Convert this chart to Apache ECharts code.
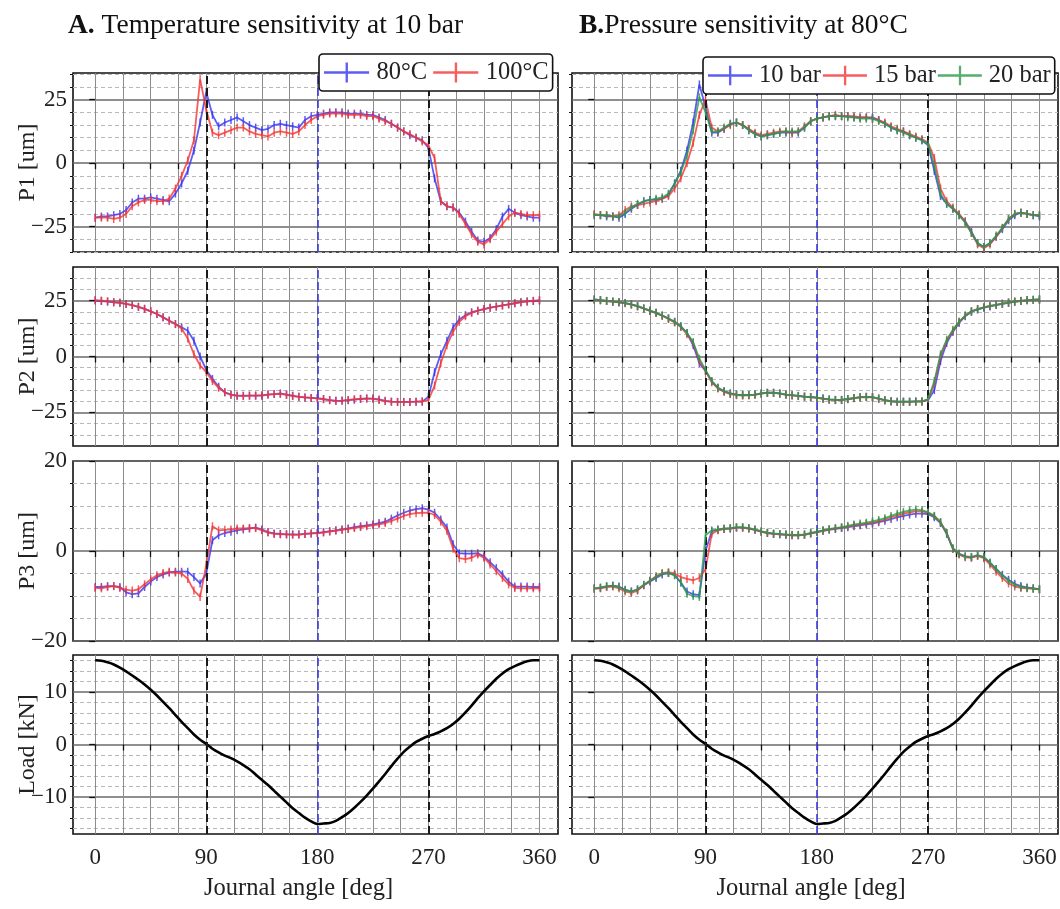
<!DOCTYPE html>
<html>
<head>
<meta charset="utf-8">
<title>Journal orbit sensitivity</title>
<script src="https://cdn.jsdelivr.net/npm/echarts@6.0.0/dist/echarts.min.js"></script>
<style>
  html, body { margin: 0; padding: 0; background: #fff; }
  #chart { width: 1060px; height: 909px; }
</style>
</head>
<body>
<div id="chart"></div>
<script>
// journal angle [deg]
const angle = [0, 5, 10, 15, 20, 25, 30, 35, 40, 45,
  50, 55, 60, 65, 70, 75, 80, 85, 90, 95,
  100, 105, 110, 115, 120, 125, 130, 135, 140, 145,
  150, 155, 160, 165, 170, 175, 180, 185, 190, 195,
  200, 205, 210, 215, 220, 225, 230, 235, 240, 245,
  250, 255, 260, 265, 270, 275, 280, 285, 290, 295,
  300, 305, 310, 315, 320, 325, 330, 335, 340, 345,
  350, 355, 360];

// A. temperature sensitivity at 10 bar
const p1_80C = [-21.5, -21, -21, -20.5, -20, -18.5, -15.5, -14, -14, -13.5,
  -14, -14.5, -15, -12, -8, -3, 5, 16, 28, 19,
  14.5, 16, 17, 18, 16.5, 15, 14, 13, 13.5, 15,
  15.5, 15, 14.5, 14, 17, 18.5, 19, 19.5, 20, 20,
  20, 19.5, 19.5, 19.5, 19, 19, 18, 17, 15.5, 14,
  12.5, 11, 10, 9, 6, -6, -15, -17, -17.5, -19.5,
  -23, -27, -30.5, -31, -29.5, -26, -21, -18, -19.5, -20.5,
  -21, -21.5, -21.5];
const p1_100C = [-21.5, -21.5, -21.5, -22, -21.5, -20, -17, -15.5, -14.5, -14.5,
  -15, -15, -14, -10, -5, 1, 9, 33, 21, 12,
  11, 12, 13, 14, 14, 12.5, 11.5, 11, 10.5, 12,
  12.5, 12, 11.5, 12.5, 15, 17, 18.5, 19, 19.5, 19.5,
  19.5, 19, 19, 19, 18.5, 18.5, 17.5, 16.5, 15.5, 14,
  12.5, 11.5, 10, 8.5, 7, 2, -15, -17, -17.5, -20,
  -24, -28, -31, -32, -30, -27, -24, -21, -19.5, -20,
  -20.5, -20.5, -20.5];
const p2_80C = [25, 24.8, 24.5, 24.2, 24, 23.5, 23, 22.2, 21.3, 20.2,
  19, 17.5, 16, 14.5, 13, 11.5, 7, 0, -6, -10,
  -13.5, -16, -17, -17.5, -17.5, -17.5, -17.5, -17.5, -17, -16.8,
  -16.5, -17, -17.5, -18, -18.3, -18.5, -18.7, -19, -19.5, -19.8,
  -19.8, -19.5, -19.3, -19, -18.8, -18.8, -19.2, -19.8, -20.2, -20.3,
  -20.3, -20.3, -20.2, -20.2, -18, -7, 1, 7, 13, 16.5,
  18.5, 19.8, 20.5, 21.2, 21.8, 22.3, 22.8, 23.3, 23.8, 24.3,
  24.6, 24.8, 25];
const p2_100C = [25.2, 25, 24.7, 24.3, 24, 23.5, 23, 22.2, 21.3, 20.2,
  19, 17.5, 16, 14.5, 12.5, 8, 1, -4, -7, -11,
  -14, -16, -17.2, -17.5, -17.7, -17.5, -17.5, -17.3, -17, -16.8,
  -16.7, -17.2, -17.7, -18, -18.3, -18.5, -18.7, -19.1, -19.5, -19.8,
  -19.7, -19.4, -19.1, -18.9, -18.7, -18.9, -19.4, -19.9, -20.2, -20.3,
  -20.4, -20.3, -20.2, -20, -19.5, -13, -3, 5, 11, 15.5,
  18, 19.5, 20.5, 21.2, 21.8, 22.3, 22.8, 23.3, 23.8, 24.3,
  24.6, 24.9, 25.2];
const p3_80C = [-8, -8, -7.8, -7.8, -8, -9.2, -9.6, -9.4, -8, -6.8,
  -5.8, -5.2, -4.8, -4.6, -4.6, -4.6, -5.8, -7.2, -5, 2.4,
  3.5, 4, 4.3, 4.6, 4.8, 5, 5.2, 4.8, 4.2, 3.9,
  3.8, 3.7, 3.7, 3.7, 3.8, 3.9, 4, 4.2, 4.4, 4.6,
  4.8, 5, 5.3, 5.5, 5.7, 5.9, 6.2, 6.5, 7.2, 7.9,
  8.5, 9, 9.3, 9.5, 9.2, 8.5, 7, 5.2, 1.5, -0.5,
  -0.6, -0.6, -0.5, -1.2, -2.5, -3.8, -5.2, -6.8, -7.9, -7.9,
  -7.9, -8, -8];
const p3_100C = [-8.2, -8.3, -8, -7.8, -8.2, -8.6, -8.8, -8.5, -7.4, -6.3,
  -5.4, -4.9, -4.6, -4.8, -5, -6.2, -8.8, -10.2, -3, 5.5,
  4.6, 4.7, 4.8, 5, 5, 5.1, 5.1, 4.6, 4.1, 3.8,
  3.7, 3.7, 3.6, 3.6, 3.8, 3.9, 4, 4.1, 4.3, 4.5,
  4.7, 4.9, 5.1, 5.3, 5.5, 5.7, 5.9, 6.2, 6.7, 7.2,
  7.8, 8.2, 8.4, 8.5, 8.5, 8, 6.5, 4.5, 0.5, -1.6,
  -1.8, -1.5, -0.8, -1.5, -3, -4.5, -6, -7.4, -8.2, -8.3,
  -8.3, -8.3, -8.3];

// B. pressure sensitivity at 80 C
const p1_10bar = [-20.5, -20.5, -21, -21, -21.5, -20, -18, -16.5, -15, -14.5,
  -14.5, -14, -12.5, -8, -3, 5, 16, 31, 22, 12,
  12, 13.5, 15.5, 16, 15, 13, 11.5, 10.5, 11, 11.5,
  12, 12, 12, 12, 14, 16.5, 17.5, 18, 18.5, 18.5,
  18.5, 18.5, 18, 18, 18, 18, 17, 15.5, 14, 13,
  12.5, 11, 10, 9, 7, -3, -13, -16, -18, -20.5,
  -23, -27, -31.5, -33, -31.5, -29, -26, -22.5, -20.5, -19.5,
  -20, -20.5, -21];
const p1_15bar = [-20, -20.5, -20.5, -21, -20.5, -18.5, -17, -16.5, -16, -15.5,
  -15, -14, -13, -10, -6, 0, 8, 19, 25, 14,
  12.5, 13.5, 15, 16, 15, 13.5, 12, 11, 11.5, 12,
  12.5, 12.5, 12, 12.5, 14.5, 16.5, 17.5, 18, 18.5, 19,
  18.5, 18.5, 18.5, 18, 18, 17.5, 17, 16, 14.5, 13.5,
  12.5, 11.5, 10.5, 9.5, 8, 2, -10, -15, -17.5, -20,
  -23, -27.5, -32, -33.5, -32, -29, -25.5, -22, -20, -19.5,
  -20, -20.5, -20.5];
const p1_20bar = [-20.5, -20.5, -20.5, -21, -21, -19.5, -17.5, -16, -15, -14.5,
  -14, -13.5, -12, -8, -3.5, 3, 13, 26, 20, 12.5,
  12.5, 14, 15.5, 16, 15, 13, 11.5, 10.5, 11, 11.5,
  12, 12.5, 12.5, 12.5, 14, 16.5, 17.5, 18, 18.5, 18.5,
  18.5, 18, 18, 17.5, 17.5, 17.5, 16.5, 15.5, 14, 13,
  12, 11, 10, 9, 7.5, -1, -12, -16, -18, -20.5,
  -23.5, -27.5, -31.5, -33, -31.5, -28.5, -25.5, -22, -20, -19.5,
  -20, -20.5, -20.5];
const p2_10bar = [25.5, 25.2, 24.8, 24.5, 24.2, 23.9, 23.3, 22.5, 21.5, 20.5,
  19.5, 18.3, 17, 15.5, 13.5, 10.5, 5, -3, -6.5, -11,
  -14, -15.5, -16.5, -17, -17.2, -17.2, -17, -16.5, -16.2, -16.2,
  -16.5, -17, -17.3, -17.6, -17.9, -18.1, -18.4, -18.8, -19.2, -19.4,
  -19.4, -19, -18.6, -18.2, -18, -18.2, -18.8, -19.5, -20, -20.2,
  -20.2, -20.2, -20.1, -20.1, -19.5, -15, -2, 6, 11, 15,
  18, 20, 21, 21.8, 22.4, 23, 23.5, 24, 24.5, 24.8,
  25.1, 25.3, 25.5];
const p2_15bar = [25.4, 25.1, 24.8, 24.5, 24.2, 23.8, 23.2, 22.4, 21.4, 20.4,
  19.4, 18.2, 16.8, 15.2, 13.2, 10, 6, -2, -6.5, -11.5,
  -14.3, -15.8, -16.8, -17.3, -17.5, -17.4, -17.1, -16.6, -16.3, -16.3,
  -16.6, -17.1, -17.4, -17.7, -18, -18.2, -18.5, -18.9, -19.3, -19.5,
  -19.5, -19.1, -18.7, -18.3, -18.1, -18.3, -18.9, -19.6, -20.1, -20.3,
  -20.3, -20.3, -20.2, -20.2, -19.2, -12, 0, 7, 11.5, 15.5,
  18.3, 20.2, 21.2, 22, 22.6, 23.1, 23.6, 24.1, 24.5, 24.8,
  25.1, 25.3, 25.4];
const p2_20bar = [25.5, 25.2, 24.9, 24.6, 24.3, 23.9, 23.3, 22.5, 21.5, 20.5,
  19.5, 18.3, 17, 15.5, 13.5, 10.5, 6.5, -1, -6, -11,
  -14, -15.5, -16.5, -17, -17.2, -17.2, -17, -16.5, -16.2, -16.2,
  -16.5, -17, -17.3, -17.6, -17.9, -18.1, -18.4, -18.8, -19.2, -19.4,
  -19.4, -19, -18.6, -18.2, -18, -18.2, -18.8, -19.5, -20, -20.2,
  -20.2, -20.2, -20.1, -20, -19, -11, 1, 7.5, 12, 15.5,
  18.3, 20.2, 21.2, 22, 22.6, 23.1, 23.6, 24.1, 24.5, 24.9,
  25.2, 25.4, 25.5];
const p3_10bar = [-8.3, -8.2, -7.9, -7.7, -7.9, -8.6, -9, -8.6, -7.6, -6.8,
  -6, -5.2, -4.9, -5.3, -7, -9, -9.6, -9.8, 0, 4.4,
  4.7, 4.9, 5, 5.2, 5.2, 5, 4.7, 4.3, 4, 3.8,
  3.7, 3.6, 3.5, 3.5, 3.6, 3.9, 4.2, 4.5, 4.7, 4.9,
  5.1, 5.3, 5.5, 5.7, 5.9, 6.1, 6.4, 6.7, 7.1, 7.5,
  7.8, 8.1, 8.3, 8.3, 8.2, 7.5, 6.2, 3.8, 0.5, -0.6,
  -1.2, -1.4, -1, -1.4, -2.6, -4, -5.3, -6.4, -7.3, -7.8,
  -8.1, -8.3, -8.5];
const p3_15bar = [-8.4, -8.3, -8, -7.9, -8.3, -9, -9.3, -8.8, -7.6, -6.6,
  -5.6, -4.9, -4.7, -5, -5.8, -6.2, -6.5, -6, -4, 3.8,
  4.6, 4.9, 5, 5.2, 5.2, 5, 4.7, 4.3, 4, 3.8,
  3.7, 3.6, 3.5, 3.5, 3.6, 3.9, 4.2, 4.5, 4.8, 5,
  5.2, 5.4, 5.7, 5.9, 6.1, 6.3, 6.6, 7, 7.5, 7.9,
  8.3, 8.6, 8.8, 8.8, 8.5, 7.8, 6.4, 4, 0.5, -0.8,
  -1.4, -1.5, -1.1, -1.6, -3, -4.6, -6, -7.2, -7.9, -8.2,
  -8.3, -8.4, -8.5];
const p3_20bar = [-8.3, -8.1, -7.8, -7.7, -8, -8.7, -9, -8.5, -7.5, -6.6,
  -5.7, -5, -4.9, -5.4, -7, -9.5, -10, -10.2, 3.5, 4.6,
  4.8, 5, 5.1, 5.3, 5.3, 5.1, 4.8, 4.4, 4.1, 3.9,
  3.8, 3.7, 3.6, 3.6, 3.7, 4, 4.3, 4.6, 4.9, 5.1,
  5.3, 5.6, 5.9, 6.1, 6.3, 6.6, 6.9, 7.3, 7.8, 8.3,
  8.7, 9, 9.2, 9.1, 8.6, 7.8, 6.4, 4, 0.6, -0.6,
  -1.2, -1.3, -0.9, -1.3, -2.6, -4, -5.4, -6.6, -7.5, -8,
  -8.2, -8.3, -8.5];

// bearing load [kN], same in both columns
const load = [16, 15.9, 15.6, 15.2, 14.6, 13.9, 13.1, 12.3, 11.4, 10.4,
  9.3, 8.1, 6.9, 5.6, 4.3, 3.1, 1.9, 0.9, 0.1, -0.8,
  -1.5, -2.1, -2.6, -3.2, -3.9, -4.7, -5.7, -6.7, -7.7, -8.8,
  -9.9, -11, -12.1, -13, -13.9, -14.6, -15.1, -15, -14.9, -14.5,
  -13.8, -13, -12, -10.9, -9.7, -8.4, -7, -5.6, -4.1, -2.7,
  -1.4, -0.4, 0.5, 1.1, 1.6, 2, 2.5, 3.1, 3.9, 4.9,
  6.1, 7.4, 8.8, 10.1, 11.3, 12.5, 13.5, 14.3, 14.9, 15.4,
  15.8, 16, 16];

// tick positions
const xTicks = [0, 22.5, 45, 67.5, 90, 112.5, 135, 157.5, 180, 202.5, 225, 247.5, 270, 292.5, 315, 337.5, 360];
const xLabels = [0, 90, 180, 270, 360];
const refAngles = [90, 180, 270];

const rows = [
  { name: 'P1 [um]', min: -35, max: 35.5, major: [-25, 0, 25],
    minor: [-35, -30, -20, -15, -10, -5, 5, 10, 15, 20, 30, 35] },
  { name: 'P2 [um]', min: -40, max: 40, major: [-25, 0, 25],
    minor: [-35, -30, -20, -15, -10, -5, 5, 10, 15, 20, 30, 35] },
  { name: 'P3 [um]', min: -20, max: 20, major: [-20, 0, 20],
    minor: [-15, -10, -5, 5, 10, 15] },
  { name: 'Load [kN]', min: -17, max: 17, major: [-10, 0, 10],
    minor: [-16, -14, -12, -8, -6, -4, -2, 2, 4, 6, 8, 12, 14, 16] }
];

const FONT = 'Liberation Serif';
const BLUE = '#3434f4', RED = '#f43434', GREEN = '#2a9a4a';

const columns = [
  { left: 73, width: 485, titlePad: [0, 34, 0, 0],
    sets: [
      [['80°C', p1_80C, BLUE], ['100°C', p1_100C, RED]],
      [['80°C', p2_80C, BLUE], ['100°C', p2_100C, RED]],
      [['80°C', p3_80C, BLUE], ['100°C', p3_100C, RED]]
    ] },
  { left: 572, width: 486, titlePad: [0, 8, 0, 0],
    sets: [
      [['10 bar', p1_10bar, BLUE], ['15 bar', p1_15bar, RED], ['20 bar', p1_20bar, GREEN]],
      [['10 bar', p2_10bar, BLUE], ['15 bar', p2_15bar, RED], ['20 bar', p2_20bar, GREEN]],
      [['10 bar', p3_10bar, BLUE], ['15 bar', p3_15bar, RED], ['20 bar', p3_20bar, GREEN]]
    ] }
];
const rowTop = [73, 267, 461, 655];
const rowHeight = [179, 179, 180, 179];

function pairs(vals) {
  return angle.map((a, i) => [a, vals[i]]);
}
function minus(v) {
  return String(v).replace('-', '\u2212');
}

const refLines = {
  silent: true, symbol: 'none', label: { show: false }, animation: false,
  data: [
    { xAxis: refAngles[0], lineStyle: { color: '#1a1a1a', type: [8, 4], width: 2 } },
    { xAxis: refAngles[1], lineStyle: { color: '#3a3ae0', type: [8, 4], width: 1.6 } },
    { xAxis: refAngles[2], lineStyle: { color: '#1a1a1a', type: [8, 4], width: 2 } }
  ]
};

const grids = [], xAxes = [], yMajor = [], yMinor = [], series = [];

columns.forEach((col, c) => {
  rows.forEach((row, r) => {
    const gi = grids.length;
    const bottom = r === rows.length - 1;
    grids.push({
      left: col.left, top: rowTop[r], width: col.width, height: rowHeight[r],
      show: true, borderColor: '#111', borderWidth: 1.6, backgroundColor: 'transparent'
    });
    xAxes.push({
      type: 'value', gridIndex: gi, min: -18, max: 375,
      axisLine: { show: false },
      axisTick: { show: true, inside: false, length: 6, customValues: xTicks,
        lineStyle: { color: '#111', width: 1.3 } },
      axisLabel: { show: bottom, customValues: xLabels, fontFamily: FONT, fontSize: 23,
        color: '#222', margin: 12 },
      splitLine: { show: true, lineStyle: { color: '#8c8c8c', width: 1 } },
      name: bottom ? 'Journal angle [deg]' : '',
      nameLocation: 'middle', nameGap: 42,
      nameTextStyle: { fontFamily: FONT, fontSize: 24.5, color: '#222', padding: col.titlePad }
    });
    yMajor.push({
      type: 'value', gridIndex: gi, min: row.min, max: row.max, position: 'left',
      axisLine: { show: false },
      axisTick: { show: true, length: 6, customValues: row.major,
        lineStyle: { color: '#111', width: 1.3 } },
      axisLabel: { show: c === 0, customValues: row.major, formatter: minus,
        showMinLabel: true, showMaxLabel: true,
        fontFamily: FONT, fontSize: 23, color: '#222', margin: 6 },
      splitLine: { show: true, lineStyle: { color: '#6a6a6a', width: 1.6 } },
      name: c === 0 ? row.name : '',
      nameLocation: 'middle', nameGap: 33, nameMoveOverlap: false,
      nameTextStyle: { fontFamily: FONT, fontSize: 24, color: '#222' }
    });
    yMinor.push({
      type: 'value', gridIndex: gi, min: row.min, max: row.max, position: 'left',
      axisLine: { show: false }, axisLabel: { show: false },
      axisTick: { show: true, length: 3, customValues: row.minor,
        lineStyle: { color: '#111', width: 1 } },
      splitLine: { show: true, lineStyle: { color: '#b8b8b8', type: [4, 3], width: 1 } }
    });

    if (bottom) {
      series.push({
        type: 'line', name: 'Load', xAxisIndex: gi, yAxisIndex: gi,
        data: pairs(load), showSymbol: false, smooth: 0.3,
        lineStyle: { color: '#000', width: 2.6 }, itemStyle: { color: '#000' },
        markLine: refLines, z: 3
      });
    } else {
      col.sets[r].forEach((s, k) => {
        series.push({
          type: 'line', name: s[0], xAxisIndex: gi, yAxisIndex: gi,
          data: pairs(s[1]),
          symbol: 'path://M0,0h2v16h-2z', symbolSize: [1.5, 8], showSymbol: true,
          lineStyle: { color: s[2], width: 1.8, opacity: 0.8 },
          itemStyle: { color: s[2], opacity: 0.8 },
          markLine: k === 0 ? refLines : undefined,
          z: 3 + k
        });
      });
    }
  });
});

const legendBase = {
  orient: 'horizontal',
  icon: 'path://M0,9h46v2.4h-46z M22,0h2.4v20.4h-2.4z',
  itemWidth: 46, itemHeight: 20, itemGap: 6, width: 420,
  backgroundColor: '#fff', borderColor: '#111', borderWidth: 1.6, borderRadius: 4,
  padding: [6, 4, 6, 5],
  textStyle: { fontFamily: FONT, fontSize: 24.5, color: '#222', padding: [0, 0, 0, 2] },
  itemStyle: { borderWidth: 0 },
  z: 10
};

const titleStyle = {
  fontFamily: FONT, fontSize: 27.5, fontWeight: 'normal', color: '#111',
  rich: { b: { fontFamily: FONT, fontSize: 27.5, fontWeight: 'bold', color: '#111' } }
};

const option = {
  animation: false,
  backgroundColor: '#fff',
  title: [
    { text: '{b|A.} Temperature sensitivity at 10 bar', left: 63, top: 7, textStyle: titleStyle },
    { text: '{b|B.}Pressure sensitivity at 80°C', left: 574, top: 7, textStyle: titleStyle }
  ],
  legend: [
    Object.assign({}, legendBase, { data: ['80°C', '100°C'], left: 319, top: 54 }),
    Object.assign({}, legendBase, { data: ['10 bar', '15 bar', '20 bar'], left: 703, top: 57,
      itemWidth: 44, itemGap: 2 })
  ],
  grid: grids,
  xAxis: xAxes,
  yAxis: yMajor.concat(yMinor),
  series: series
};

const chart = echarts.init(document.getElementById('chart'));
chart.setOption(option);
</script>
</body>
</html>
